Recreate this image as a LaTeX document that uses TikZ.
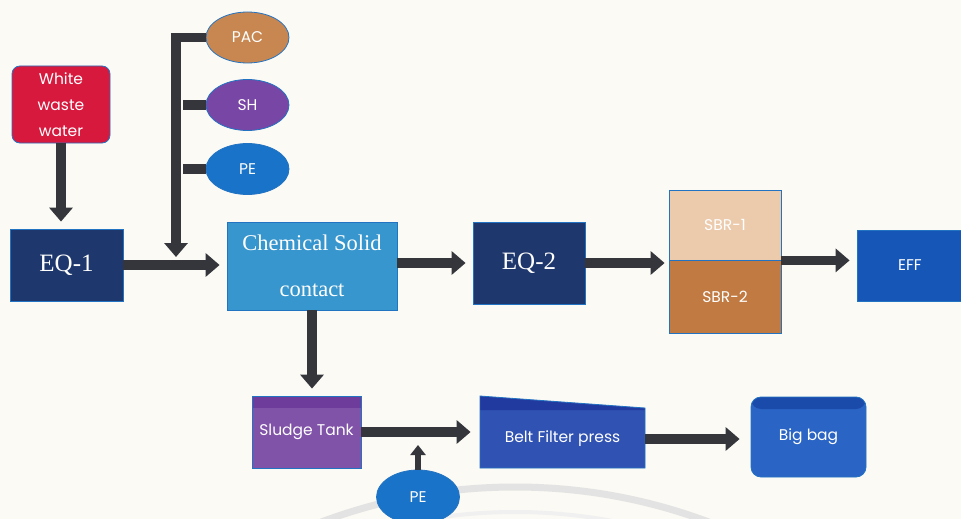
\documentclass[tikz,border=0pt]{standalone}
\usepackage{fontspec}
\setmainfont{Liberation Serif}
\setsansfont{Poppins}
\usetikzlibrary{shapes.geometric,arrows.meta}

\definecolor{paper}{RGB}{251,250,244}
\definecolor{edge}{RGB}{35,115,195}
\definecolor{pipegray}{RGB}{52,54,60}
\definecolor{wwred}{RGB}{215,25,62}
\definecolor{eqnavy}{RGB}{30,55,108}
\definecolor{chem}{RGB}{55,150,205}
\definecolor{pac}{RGB}{200,135,80}
\definecolor{sh}{RGB}{120,70,165}
\definecolor{pe}{RGB}{25,115,200}
\definecolor{sbra}{RGB}{236,202,172}
\definecolor{sbrb}{RGB}{192,122,66}
\definecolor{eff}{RGB}{22,86,182}
\definecolor{sludge}{RGB}{128,82,168}
\definecolor{sludgetop}{RGB}{110,60,155}
\definecolor{belt}{RGB}{48,82,178}
\definecolor{belttop}{RGB}{32,58,160}
\definecolor{bag}{RGB}{42,100,196}
\definecolor{bagtop}{RGB}{26,74,170}

\begin{document}
\begin{tikzpicture}[x=1pt,y=-1pt]
			\tikzstyle{box}=[draw=edge,line width=0.8pt,text=white,align=center,inner sep=0pt,font=\sffamily\fontsize{15.5}{26}\selectfont]
			\tikzstyle{blob}=[box,ellipse,minimum width=83pt,minimum height=51pt]
			\tikzstyle{pipe}=[draw=pipegray,line width=9.5pt,-{Triangle[length=14pt,width=23pt]},shorten >=7pt]
			\tikzstyle{band}=[path picture={\fill[#1] (path picture bounding box.north west) rectangle ([yshift=-12pt]path picture bounding box.north east);}]
			\fill[paper] (0,0) rectangle (961,519);
			\useasboundingbox (0,0) rectangle (961,519);
			% faint ring at the bottom
			\begin{scope}
				\clip (0,0) rectangle (961,519);
				\draw[gray!22,line width=7pt] (515,1038) circle[radius=551];
				\draw[gray!12,line width=4pt] (515,1038) circle[radius=526];
			\end{scope}
			% top row
			\node[box,rounded corners=8pt,fill=wwred,minimum width=98pt,minimum height=77pt] (WWW) at (61,104.5) {White\\waste\\water};
			\node[box,fill=eqnavy,minimum width=113pt,minimum height=72pt,font=\rmfamily\fontsize{25}{30}\selectfont] (EQ_1) at (66.5,265) {EQ-1};
			\node[blob,fill=pac] (PAC) at (247.5,37.5) {PAC};
			\node[blob,fill=sh] (SH) at (247.5,105) {SH};
			\node[blob,fill=pe] (PE_1) at (247.5,169) {PE};
			\node[box,fill=chem,minimum width=170pt,minimum height=88pt,font=\rmfamily\fontsize{22.5}{46}\selectfont] (CSC) at (312,266) {Chemical Solid\\contact};
			\node[box,fill=eqnavy,minimum width=112pt,minimum height=82pt,font=\rmfamily\fontsize{25}{30}\selectfont] (EQ_2) at (529,263) {EQ-2};
			\node[box,fill=sbra,minimum width=112pt,minimum height=70pt] (SBR_1) at (725,225) {SBR-1};
			\node[box,fill=sbrb,minimum width=112pt,minimum height=73pt] (SBR_2) at (725,296.5) {SBR-2};
			\node[box,fill=eff,minimum width=106pt,minimum height=71pt] (EFF) at (910,265.5) {EFF};
			% bottom row
			\node[box,fill=sludge,band=sludgetop,minimum width=109pt,minimum height=72pt] (ST) at (306.5,432) {Sludge Tank};
			\fill[belt,draw=edge,line width=0.8pt] (480,396) -- (645,408) -- (645,468) -- (480,468) -- cycle;
			\fill[belttop] (480.4,396.6) -- (644.6,408.6) -- (644.6,410) -- (480.4,410) -- cycle;
			\node[box,draw=none,minimum width=165pt,minimum height=58pt] (BFP) at (562.5,439) {Belt Filter press};
			\node[box,fill=bag,band=bagtop,rounded corners=10pt,minimum width=115pt,minimum height=80pt] (BB) at (808.5,437) {Big bag};
			\node[blob,fill=pe,minimum height=54pt] (PE_2) at (418,497) {PE};
			\coordinate (feed) at (176,257);
			\coordinate (dose) at (418,445);
			% connectors
			\draw[pipe,shorten >=0pt] (PAC.west) -| (feed);
			\draw[pipe,-] (SH.west) -- (SH.west -| feed);
			\draw[pipe,-] (PE_1.west) -- (PE_1.west -| feed);
			\draw[pipe] (WWW.south) -- (WWW.south |- EQ_1.north);
			\draw[pipe] (EQ_1.east) -- (EQ_1.east -| CSC.west);
			\draw[pipe] (CSC.east |- EQ_2.west) -- (EQ_2.west);
			\draw[pipe,shorten >=4pt] (EQ_2.east) -- (EQ_2.east -| SBR_1.south west);
			\draw[pipe] (SBR_1.south east) -- (SBR_1.south east -| EFF.west);
			\draw[pipe] (CSC.south) -- (CSC.south |- ST.north);
			\draw[pipe,shorten >=9pt] (ST.east) -- (ST.east -| BFP.west);
			\draw[pipe,shorten >=11pt] (BFP.east) -- (BFP.east -| BB.west);
			\draw[pipe,line width=6pt,-{Triangle[length=10pt,width=15pt]},shorten >=0pt] (PE_2.north) -- (dose);
\end{tikzpicture}
\end{document}
